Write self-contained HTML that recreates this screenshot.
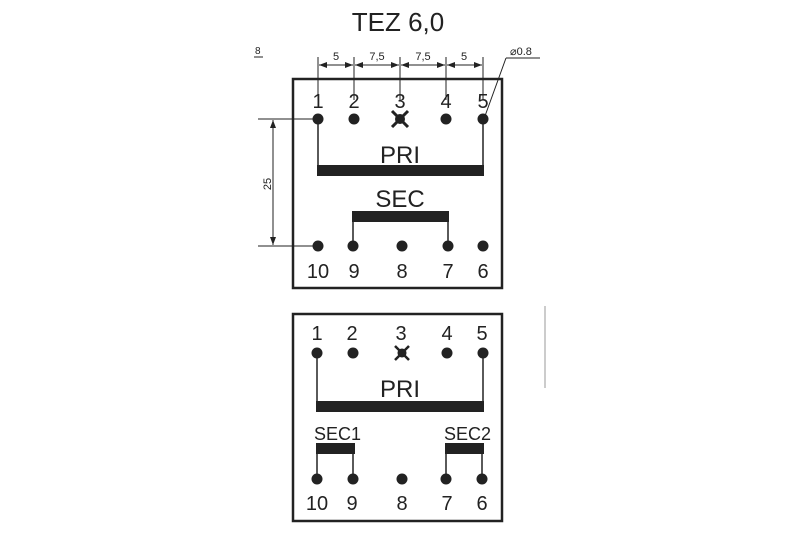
<!DOCTYPE html>
<html><head><style>body{margin:0;background:#fff}svg{display:block}</style></head><body>
<svg width="800" height="534" viewBox="0 0 800 534" xmlns="http://www.w3.org/2000/svg" font-family="Liberation Sans, sans-serif" fill="#222">
<defs><marker id="a" markerWidth="8" markerHeight="6" refX="8" refY="3" orient="auto-start-reverse"><path d="M0,0L8,3L0,6z" fill="#222"/></marker></defs>
<text x="398" y="31" font-size="26" text-anchor="middle">TEZ 6,0</text>
<text x="255" y="54" font-size="10">8</text><line x1="254" y1="57" x2="263" y2="57" stroke="#222"/>
<!-- dims -->
<g stroke="#222" stroke-width="1">
<line x1="318" y1="57" x2="318" y2="100"/><line x1="354" y1="57" x2="354" y2="100"/><line x1="400" y1="57" x2="400" y2="100"/><line x1="446" y1="57" x2="446" y2="100"/><line x1="483" y1="57" x2="483" y2="100"/>
<line x1="319" y1="65" x2="353" y2="65" marker-start="url(#a)" marker-end="url(#a)"/>
<line x1="355" y1="65" x2="399" y2="65" marker-start="url(#a)" marker-end="url(#a)"/>
<line x1="401" y1="65" x2="445" y2="65" marker-start="url(#a)" marker-end="url(#a)"/>
<line x1="447" y1="65" x2="482" y2="65" marker-start="url(#a)" marker-end="url(#a)"/>
<line x1="506" y1="58" x2="540" y2="58"/><line x1="506" y1="58" x2="485" y2="116"/>
<line x1="258" y1="119" x2="318" y2="119"/><line x1="258" y1="246" x2="318" y2="246"/>
<line x1="273" y1="120" x2="273" y2="245" marker-start="url(#a)" marker-end="url(#a)"/>
</g>
<g font-size="11" text-anchor="middle"><text x="336" y="60">5</text><text x="377" y="60">7,5</text><text x="423" y="60">7,5</text><text x="464" y="60">5</text></g>
<text x="510" y="55" font-size="11">⌀0.8</text>
<text transform="translate(271,184) rotate(-90)" font-size="11" text-anchor="middle">25</text>
<!-- top box -->
<rect x="293" y="79" width="209" height="209" fill="none" stroke="#222" stroke-width="2.5"/>
<g font-size="20" text-anchor="middle"><text x="318" y="108">1</text><text x="354" y="108">2</text><text x="400" y="108">3</text><text x="446" y="108">4</text><text x="483" y="108">5</text>
<text x="318" y="278">10</text><text x="354" y="278">9</text><text x="402" y="278">8</text><text x="448" y="278">7</text><text x="483" y="278">6</text></g>
<g><circle cx="318" cy="119" r="5.5"/><circle cx="354" cy="119" r="5.5"/><circle cx="446" cy="119" r="5.5"/><circle cx="483" cy="119" r="5.5"/><circle cx="400" cy="119" r="5"/>
<path d="M392,111L408,127M408,111L392,127" stroke="#222" stroke-width="3"/>
<circle cx="318" cy="246" r="5.5"/><circle cx="353" cy="246" r="5.5"/><circle cx="402" cy="246" r="5.5"/><circle cx="448" cy="246" r="5.5"/><circle cx="483" cy="246" r="5.5"/></g>
<g stroke="#222" stroke-width="1.5"><line x1="318" y1="119" x2="318" y2="166"/><line x1="483" y1="119" x2="483" y2="166"/><line x1="353" y1="220" x2="353" y2="246"/><line x1="448" y1="220" x2="448" y2="246"/></g>
<rect x="317" y="165" width="167" height="11"/><rect x="352" y="211" width="97" height="11"/>
<text x="400" y="163" font-size="24" text-anchor="middle">PRI</text>
<text x="400" y="207" font-size="24" text-anchor="middle">SEC</text>
<!-- bottom box -->
<rect x="293" y="314" width="209" height="207" fill="none" stroke="#222" stroke-width="2.5"/>
<g font-size="20" text-anchor="middle"><text x="317" y="340">1</text><text x="352" y="340">2</text><text x="401" y="340">3</text><text x="447" y="340">4</text><text x="482" y="340">5</text>
<text x="317" y="510">10</text><text x="352" y="510">9</text><text x="402" y="510">8</text><text x="447" y="510">7</text><text x="482" y="510">6</text></g>
<g><circle cx="317" cy="353" r="5.5"/><circle cx="353" cy="353" r="5.5"/><circle cx="447" cy="353" r="5.5"/><circle cx="483" cy="353" r="5.5"/><circle cx="402" cy="353" r="4.5"/>
<path d="M395,346L409,360M409,346L395,360" stroke="#222" stroke-width="2.5"/>
<circle cx="317" cy="479" r="5.5"/><circle cx="353" cy="479" r="5.5"/><circle cx="402" cy="479" r="5.5"/><circle cx="446" cy="479" r="5.5"/><circle cx="482" cy="479" r="5.5"/></g>
<g stroke="#222" stroke-width="1.5"><line x1="317" y1="353" x2="317" y2="402"/><line x1="483" y1="353" x2="483" y2="402"/>
<line x1="317" y1="454" x2="317" y2="479"/><line x1="353" y1="454" x2="353" y2="479"/><line x1="446" y1="454" x2="446" y2="479"/><line x1="482" y1="454" x2="482" y2="479"/></g>
<rect x="316" y="401" width="168" height="11"/>
<rect x="316" y="443" width="39" height="11"/><rect x="445" y="443" width="39" height="11"/>
<text x="400" y="397" font-size="24" text-anchor="middle">PRI</text>
<text x="314" y="440" font-size="18">SEC1</text><text x="444" y="440" font-size="18">SEC2</text>
<line x1="545" y1="306" x2="545" y2="388" stroke="#999" stroke-width="1"/>
</svg>
</body></html>
